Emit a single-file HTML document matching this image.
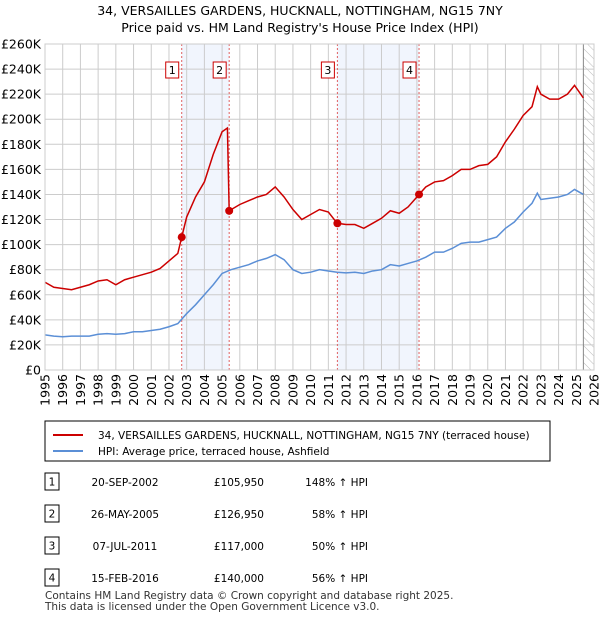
<!DOCTYPE html>
<html><head><meta charset="utf-8"><style>
body{margin:0;background:#fff;font-family:"Liberation Sans","DejaVu Sans",sans-serif;}
#wrap{position:relative;width:600px;height:620px;overflow:hidden}
</style></head><body><div id="wrap">
<svg id="svg" width="600" height="620" xmlns="http://www.w3.org/2000/svg" font-family="DejaVu Sans, Liberation Sans, sans-serif">
<text x="300" y="15" text-anchor="middle" font-size="12.5" fill="#000">34, VERSAILLES GARDENS, HUCKNALL, NOTTINGHAM, NG15 7NY</text>
<text x="300" y="32" text-anchor="middle" font-size="12.5" fill="#000">Price paid vs. HM Land Registry's House Price Index (HPI)</text>
<defs><pattern id="hatch" width="6" height="6" patternUnits="userSpaceOnUse" patternTransform="rotate(-45)"><line x1="0" y1="0" x2="0" y2="6" stroke="#bbb" stroke-width="1"/></pattern></defs>
<g id="plot"></g>
<g>
<rect x="45" y="421" width="505" height="40" fill="#fff" stroke="#000" stroke-width="1"/>
<line x1="53" y1="435" x2="83" y2="435" stroke="#cc0000" stroke-width="2"/>
<text x="98" y="439" font-size="10.5">34, VERSAILLES GARDENS, HUCKNALL, NOTTINGHAM, NG15 7NY (terraced house)</text>
<line x1="53" y1="451" x2="83" y2="451" stroke="#5b8fd6" stroke-width="2"/>
<text x="98" y="455" font-size="10.5">HPI: Average price, terraced house, Ashfield</text>
</g>
<g id="table" font-size="10.5"></g>
<text x="45" y="599" font-size="10.5" fill="#333">Contains HM Land Registry data © Crown copyright and database right 2025.</text>
<text x="45" y="610" font-size="10.5" fill="#333">This data is licensed under the Open Government Licence v3.0.</text>
</svg></div>
<script>
const hpiYears=[1995,1995.5,1996,1996.5,1997,1997.5,1998,1998.5,1999,1999.5,2000,2000.5,2001,2001.5,2002,2002.5,2003,2003.5,2004,2004.5,2005,2005.5,2006,2006.5,2007,2007.5,2008,2008.5,2009,2009.5,2010,2010.5,2011,2011.5,2012,2012.5,2013,2013.5,2014,2014.5,2015,2015.5,2016,2016.5,2017,2017.5,2018,2018.5,2019,2019.5,2020,2020.5,2021,2021.5,2022,2022.5,2022.8,2023,2023.5,2024,2024.5,2024.9,2025.4];
const hpiValues=[28,27,26.5,27,27,27,28.5,29,28.5,29,30.5,30.5,31.5,32.5,34.5,37,45,52,60,68,77,80,82,84,87,89,92,88,80,77,78,80,79,78,77.5,78,77,79,80,84,83,85,87,90,94,94,97,101,102,102,104,106,113,118,126,133,141,136,137,138,140,144,140];
const priceYears=[1995,1995.5,1996,1996.5,1997,1997.5,1998,1998.5,1999,1999.5,2000,2000.5,2001,2001.5,2002,2002.5,2002.72,2003,2003.5,2004,2004.5,2005,2005.3,2005.4,2006,2006.5,2007,2007.5,2008,2008.5,2009,2009.5,2010,2010.5,2011,2011.5,2012,2012.5,2013,2013.5,2014,2014.5,2015,2015.5,2016,2016.12,2016.5,2017,2017.5,2018,2018.5,2019,2019.5,2020,2020.5,2021,2021.5,2022,2022.5,2022.8,2023,2023.5,2024,2024.5,2024.9,2025.4];
const priceValues=[70,66,65,64,66,68,71,72,68,72,74,76,78,81,87,93,106,122,138,150,172,190,193,127,132,135,138,140,146,138,128,120,124,128,126,117,116,116,113,117,121,127,125,130,138,140,146,150,151,155,160,160,163,164,170,182,192,203,210,226,220,216,216,220,227,217];
const saleYears=[2002.72,2005.4,2011.51,2016.12];
const saleValues=[105.95,126.95,117,140];
const saleLabels=["1","2","3","4"];
const saleDates=["20-SEP-2002","26-MAY-2005","07-JUL-2011","15-FEB-2016"];
const salePrices=["£105,950","£126,950","£117,000","£140,000"];
const saleHpi=["148% ↑ HPI","58% ↑ HPI","50% ↑ HPI","56% ↑ HPI"];
const yTicks=[0,20,40,60,80,100,120,140,160,180,200,220,240,260];
const xTicks=[1995,1996,1997,1998,1999,2000,2001,2002,2003,2004,2005,2006,2007,2008,2009,2010,2011,2012,2013,2014,2015,2016,2017,2018,2019,2020,2021,2022,2023,2024,2025,2026];
const NS="http://www.w3.org/2000/svg";
const L=45,R=594,T=44,B=370;
const x=y=>L+(y-1995)/31*(R-L);
const yv=v=>B-v/260*(B-T);
const g=document.getElementById('plot');
function mk(t,a,p){const e=document.createElementNS(NS,t);for(const k in a)e.setAttribute(k,a[k]);(p||g).appendChild(e);return e;}
for(let i=0;i<4;i+=2){const r=mk('rect',{x:x(saleYears[i]),y:T,width:x(saleYears[i+1])-x(saleYears[i]),height:B-T,fill:'#eef3fc',opacity:0.8});

}
const hz=mk('rect',{x:x(2025.4),y:T,width:R-x(2025.4),height:B-T,fill:'url(#hatch)'});


yTicks.forEach(v=>{const l=mk('line',{x1:L,x2:R,y1:yv(v),y2:yv(v),stroke:'#ccc','stroke-width':1});


const t=mk('text',{x:L-4,y:yv(v)+4.5,'text-anchor':'end','font-size':12.5});t.textContent=v===0?'£0':'£'+v+'K';

});
xTicks.forEach(v=>{const l=mk('line',{x1:x(v),x2:x(v),y1:T,y2:B,stroke:'#ccc','stroke-width':1});


const tx=x(v)+4.5,ty=B+4;
const t=mk('text',{x:tx,y:ty,'text-anchor':'end','font-size':12.5,transform:'rotate(-90 '+tx+' '+ty+')'});t.textContent=v;

});
mk('line',{x1:x(2025.4),x2:x(2025.4),y1:T,y2:B,stroke:'#888','stroke-width':1});
saleYears.forEach((s,i)=>{const l=mk('line',{x1:x(s),x2:x(s),y1:T,y2:B,stroke:'#e06060','stroke-width':1,'stroke-dasharray':'2,2'});


const bx=x(s)-16;mk('rect',{x:bx,y:62,width:13,height:16,fill:'#fff',stroke:'#cc0000'});
const t=mk('text',{x:bx+6.5,y:74,'text-anchor':'middle','font-size':11});t.textContent=saleLabels[i];

});
const hp=mk('polyline',{points:hpiYears.map((y,i)=>x(y)+','+yv(hpiValues[i])).join(' '),fill:'none',stroke:'#5b8fd6','stroke-width':1.5});


const pp=mk('polyline',{points:priceYears.map((y,i)=>x(y)+','+yv(priceValues[i])).join(' '),fill:'none',stroke:'#cc0000','stroke-width':1.5});


saleYears.forEach((s,i)=>{const c=mk('circle',{cx:x(s),cy:yv(saleValues[i]),r:4,fill:'#cc0000'});

});
mk('rect',{x:L,y:T,width:R-L,height:B-T,fill:'none',stroke:'#ccc'});
const tb=document.getElementById('table');
saleYears.forEach((s,i)=>{const yy=482+i*32;
mk('rect',{x:45,y:yy-9,width:14,height:17,fill:'#fff',stroke:'#000'},tb);
const a=mk('text',{x:52,y:yy+3.5,'text-anchor':'middle'},tb);a.textContent=saleLabels[i];


const d=mk('text',{x:125,y:yy+4,'text-anchor':'middle'},tb);d.textContent=saleDates[i];


const p=mk('text',{x:264,y:yy+4,'text-anchor':'end'},tb);p.textContent=salePrices[i];


const h=mk('text',{x:368,y:yy+4,'text-anchor':'end'},tb);h.textContent=saleHpi[i];

});
</script></body></html>
